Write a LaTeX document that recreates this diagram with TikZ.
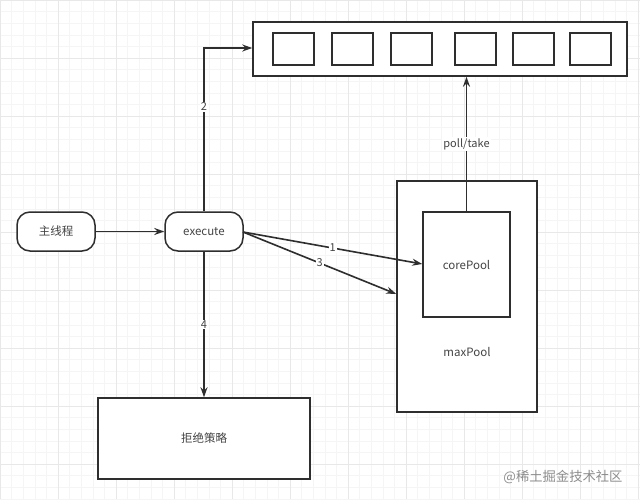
\documentclass[tikz,border=0pt]{standalone}
\usepackage{fontspec}
\setmainfont{Noto Sans CJK SC}
\usetikzlibrary{arrows.meta}
\definecolor{ln}{HTML}{2E2E2E}
\definecolor{tx}{HTML}{444444}
\tikzset{
  box/.style={draw=ln, line width=1.5pt, fill=white, inner sep=0pt},
  slot/.style={draw=ln, line width=1.5pt, fill=white, minimum width=41pt, minimum height=32pt, inner sep=0pt},
  pill/.style={draw=ln, line width=1.5pt, fill=white, rounded corners=13pt, minimum width=78pt, minimum height=39pt, inner sep=0pt, font=\fontsize{11.5}{13}\selectfont, text=tx},
  conn/.style={draw=ln, line width=1.6pt, -{Stealth[length=10pt,width=7pt]}},
  lbl/.style={fill=white, inner sep=1pt, font=\fontsize{11}{13}\selectfont, text=tx},
  txt/.style={font=\fontsize{11.5}{13}\selectfont, text=tx}
}
\begin{document}
\begin{tikzpicture}[x=1pt,y=-1pt]
\useasboundingbox (0,0) rectangle (640,499);
\fill[white] (0,0) rectangle (640,499);
% faint background grid
\draw[black!4, line width=0.5pt] (0,0) grid[step=11.6pt] (640,499);
\draw[black!9, line width=0.6pt] (0,0) grid[step=58pt] (640,499);
% queue
\node[box, minimum width=374pt, minimum height=54pt] (queue) at (440,49) {};
\node[slot] (s1) at (293.5,49) {};
\node[slot] (s2) at (352.5,49) {};
\node[slot] (s3) at (411.5,49) {};
\node[slot] (s4) at (475.5,49) {};
\node[slot] (s5) at (533.5,49) {};
\node[slot] (s6) at (590.5,49) {};
% main nodes
\node[pill] (main) at (56,231.5) {主线程};
\node[pill] (exec) at (204,231.5) {execute};
\node[box, minimum width=140pt, minimum height=231pt] (max) at (467,296.5) {};
\node[box, minimum width=87pt, minimum height=105pt] (core) at (466.5,264.5) {};
\node[txt] (coretxt) at (466.5,265) {corePool};
\node[txt] (maxtxt) at (467,352) {maxPool};
\node[box, minimum width=212pt, minimum height=81pt, txt] (reject) at (204,438.5) {拒绝策略};
% connectors
\coordinate (exTop) at (204,48);
\coordinate (exR) at (243,232);
\draw[conn] (main) -- (exec);
\draw[conn] (exec.north) -- (exTop) -- (queue.west |- exTop);
\node[lbl] (l2) at (204,107) {2};
\draw[conn] (exR) -- (core.west |- 0,264) node[lbl, pos=0.5] (l1) {1};
\draw[conn] (exR) -- (max.west |- 0,294) node[lbl, pos=0.5] (l3) {3};
\draw[conn] (exec.south) -- (reject.north) node[lbl, pos=0.5] (l4) {4};
\draw[conn] (core.north) -- (core.north |- queue.south) node[lbl, pos=0.5] (lp) {poll/take};
% watermark
\node[font=\fontsize{13.3}{15}\selectfont, text=black!45, anchor=east] (wm) at (626,477) {@稀土掘金技术社区};
\end{tikzpicture}
\end{document}
